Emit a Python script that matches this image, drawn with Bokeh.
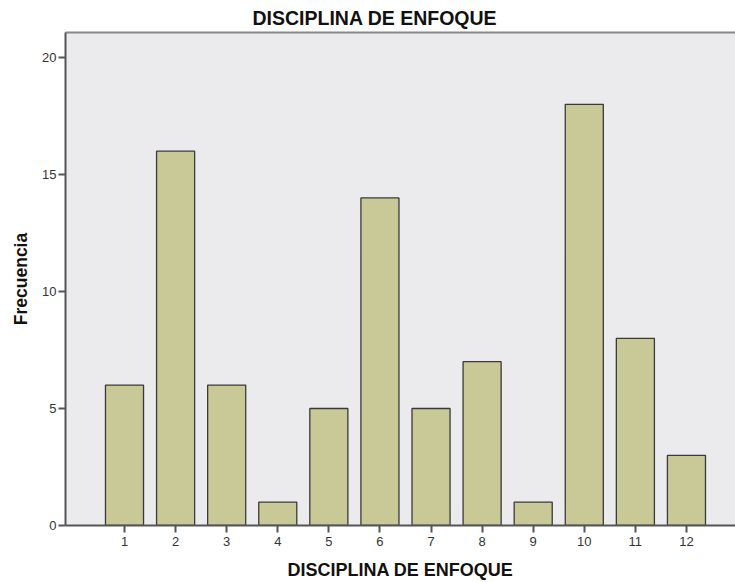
from bokeh.plotting import figure
from bokeh.models import FixedTicker, LinearAxis, Range1d
from bokeh.embed import file_html
from bokeh.resources import INLINE

categories = [1, 2, 3, 4, 5, 6, 7, 8, 9, 10, 11, 12]
counts = [6, 16, 6, 1, 5, 14, 5, 7, 1, 18, 8, 3]
y_ticks = [0, 5, 10, 15, 20]

FONT = "Liberation Sans"

p = figure(width=735, height=582, output_backend="svg", toolbar_location=None,
           x_range=Range1d(-0.155, 12.96), y_range=Range1d(0, 21.07),
           min_border_left=65, min_border_right=0, min_border_top=32, min_border_bottom=40)

p.title.text = "DISCIPLINA DE ENFOQUE"
p.title.align = "left"
p.title.text_font = FONT
p.title.text_font_size = "19.5px"
p.title.text_font_style = "bold"
p.title.text_color = "#111111"
p.title.offset = 187
p.title.standoff = 7

p.background_fill_color = "#EBEBEE"
p.border_fill_color = "white"
p.outline_line_color = None
p.grid.visible = False

p.vbar(x=categories, top=counts, width=0.745, fill_color="#C9C897",
       line_color="#3a3a3a", line_width=1.3)

for ax in [p.xaxis[0], p.yaxis[0]]:
    ax.axis_line_color = "#555555"
    ax.axis_line_width = 2
    ax.major_tick_line_color = "#555555"
    ax.major_tick_line_width = 2
    ax.major_tick_out = 7
    ax.major_tick_in = 0
    ax.minor_tick_line_color = None
    ax.major_label_text_font = FONT
    ax.major_label_text_font_size = "13px"
    ax.major_label_text_color = "#333333"
    ax.axis_label_text_font = FONT
    ax.axis_label_text_font_style = "bold"
    ax.axis_label_text_color = "#111111"

p.xaxis.ticker = FixedTicker(ticks=categories)
p.xaxis.axis_label = "DISCIPLINA DE ENFOQUE"
p.xaxis.axis_label_text_font_size = "18px"
p.xaxis.major_label_standoff = 4
p.xaxis.axis_label_standoff = 11

p.yaxis.ticker = FixedTicker(ticks=y_ticks)
p.yaxis.axis_label = "Frecuencia"
p.yaxis.axis_label_text_font_size = "17.5px"
p.yaxis.major_label_standoff = 2
p.yaxis.axis_label_standoff = 8

top_axis = LinearAxis(axis_line_color="#888888", axis_line_width=2,
                      major_tick_line_color=None, minor_tick_line_color=None,
                      major_label_text_font_size="0px", major_label_standoff=0,
                      ticker=FixedTicker(ticks=[]))
p.add_layout(top_axis, "above")

open("out.html", "w").write(file_html(p, INLINE))
